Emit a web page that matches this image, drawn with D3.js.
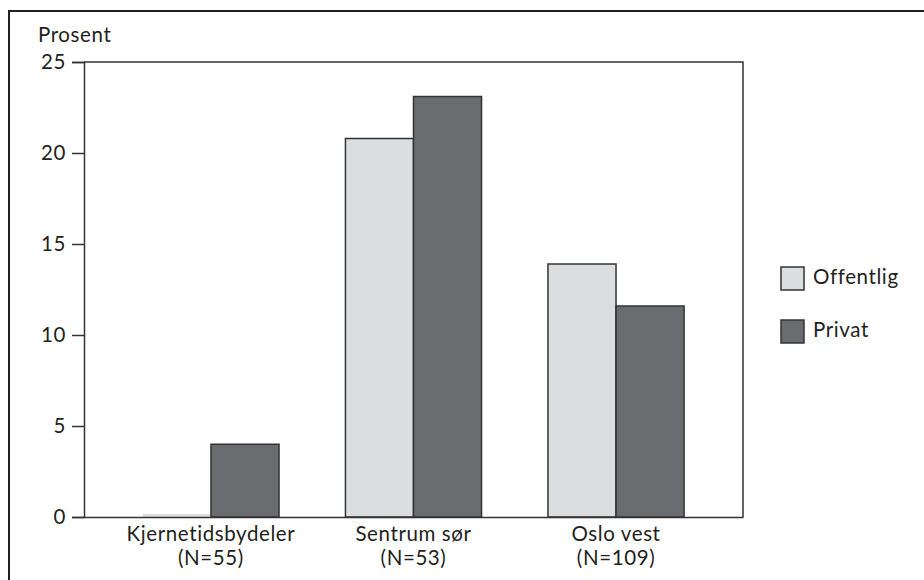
<!DOCTYPE html>
<html><head><meta charset="utf-8">
<script src="https://cdn.jsdelivr.net/npm/d3@7"></script>
<style>body{margin:0;background:#fff}svg{display:block}text{font-family:Lato,"Open Sans",sans-serif;fill:#231f20;letter-spacing:0.6px}</style>
</head><body><svg id="c" width="924" height="580"></svg>
<script>
const categories = ["Kjernetidsbydeler", "Sentrum sør", "Oslo vest"];
const categoryN = ["(N=55)", "(N=53)", "(N=109)"];
const seriesNames = ["Offentlig", "Privat"];
const offentlig = [0, 20.8, 13.9];
const privat = [4.0, 23.1, 11.6];
const yTicks = [0, 5, 10, 15, 20, 25];
const colors = ["#dcdddf", "#6b6c70"];

const svg = d3.select("#c");
const L = 84, R = 743, T = 62, B = 517;
const stroke = "#333";
const FS = "20.5px";
const FF = "Lato";

// outer frame
svg.append("path").attr("d", "M9,585 V11 H930").attr("fill", "none").attr("stroke", "#231f20").attr("stroke-width", 2);

const x = d3.scaleBand().domain(categories).range([L, R]).paddingInner(0.328).paddingOuter(0.291);
const x1 = d3.scaleBand().domain(seriesNames).range([0, x.bandwidth()]);
const y = d3.scaleLinear().domain([0, 25]).range([B, T]);

// plot frame (top/right)
svg.append("path").attr("d", `M${L},${T} H${R} V${B}`).attr("fill", "none").attr("stroke", stroke).attr("stroke-width", 1.5);

const data = [];
categories.forEach((c, i) => {
  data.push({c, s: "Offentlig", v: offentlig[i], col: colors[0]});
  data.push({c, s: "Privat", v: privat[i], col: colors[1]});
});

svg.append("g").selectAll("path").data(data).join("path")
  .attr("d", d => {
    const x0 = x(d.c) + x1(d.s), w = x1.bandwidth();
    return `M${x0},${y(0)} V${y(d.v)} H${x0 + w} V${y(0)}` + (d.v === 0 ? "" : "Z");
  })
  .attr("fill", d => d.col)
  .attr("stroke", d => d.v === 0 ? d.col : stroke)
  .attr("stroke-width", d => d.v === 0 ? 3 : 1.5)
  .attr("transform", d => d.v === 0 ? "translate(0,-1.5)" : null);

// y axis
const ya = d3.axisLeft(y).tickValues(yTicks).tickSize(12).tickPadding(6);
const gy = svg.append("g").attr("transform", `translate(${L},0)`).call(ya);
gy.select(".domain").attr("stroke", stroke).attr("stroke-width", 1.5);
gy.selectAll(".tick line").attr("stroke", stroke).attr("stroke-width", 1.5);
gy.selectAll(".tick text").style("font-size", FS).style("font-family", FF).attr("fill", "#231f20");

// x axis baseline
const xa = d3.axisBottom(x).tickSize(0);
const gx = svg.append("g").attr("transform", `translate(0,${B})`).call(xa);
gx.select(".domain").attr("stroke", stroke).attr("stroke-width", 1.5);
gx.selectAll(".tick text").remove();
gx.selectAll(".tick").each(function(d, i) {
  d3.select(this).append("text").attr("text-anchor", "middle").attr("y", 24)
    .style("font-size", FS).style("font-family", FF).attr("fill", "#231f20").text(d);
  d3.select(this).append("text").attr("text-anchor", "middle").attr("y", 48)
    .style("font-size", FS).style("font-family", FF).attr("fill", "#231f20").text(categoryN[i]);
});

svg.append("text").attr("x", 38).attr("y", 42).style("font-size", FS).text("Prosent");

// legend
const lg = svg.append("g").selectAll("g").data(seriesNames).join("g")
  .attr("transform", (d, i) => `translate(781,${267 + i * 53})`);
lg.append("rect").attr("width", 23).attr("height", 23).attr("fill", (d, i) => colors[i]).attr("stroke", stroke).attr("stroke-width", 1.5);
lg.append("text").attr("x", 32).attr("y", 17).style("font-size", FS).text(d => d);
</script></body></html>
